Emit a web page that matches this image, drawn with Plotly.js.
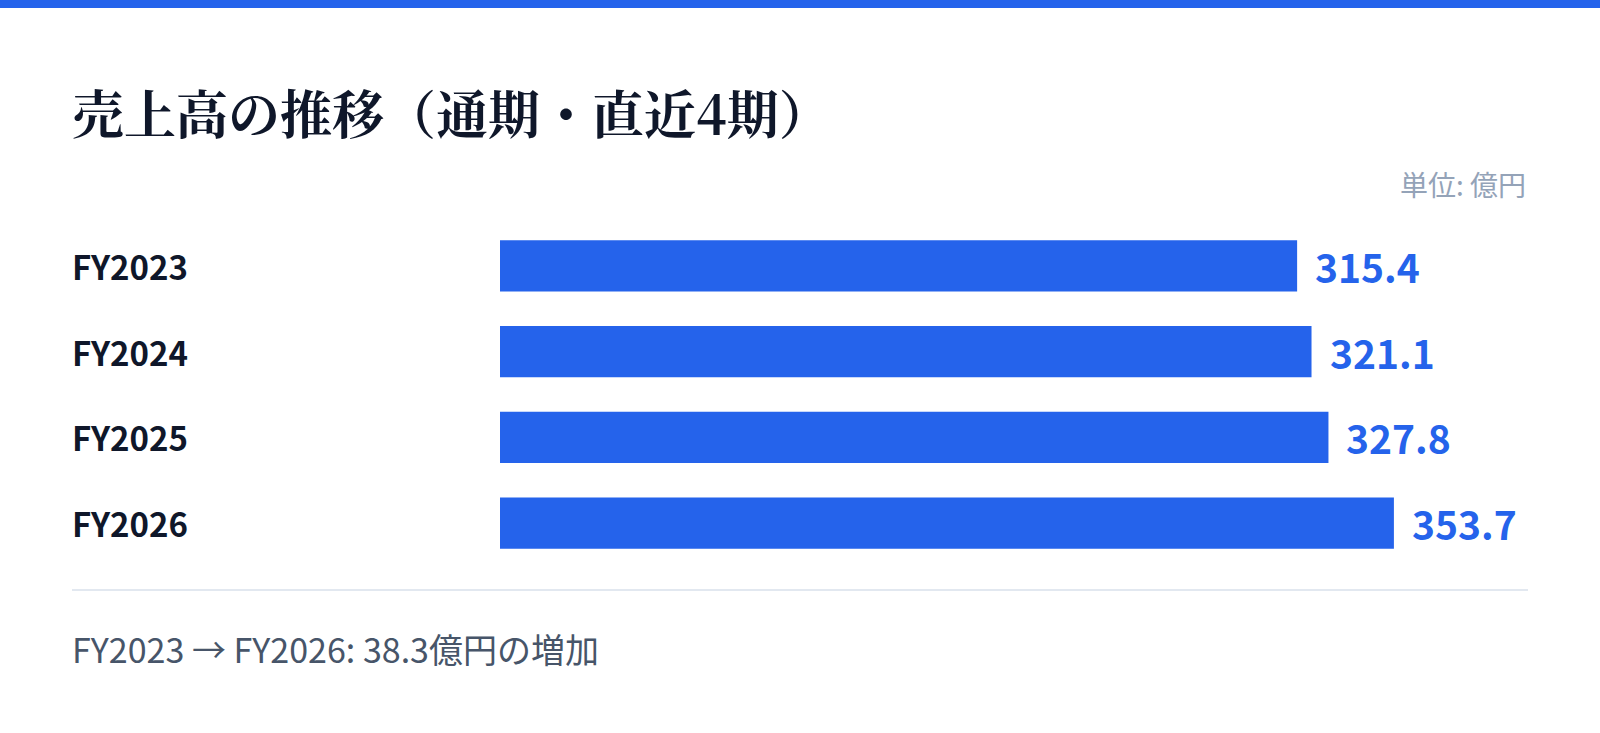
<!DOCTYPE html>
<html lang="ja">
<head>
<meta charset="utf-8">
<script src="https://cdn.plot.ly/plotly-3.0.1.min.js"></script>
<style>
  html, body { margin: 0; padding: 0; background: #ffffff; }
  #chart { width: 1600px; height: 733px; }
</style>
</head>
<body>
<div id="chart"></div>
<script>
// 売上高（億円）
const periods = ['FY2023', 'FY2024', 'FY2025', 'FY2026'];
const sales = [315.4, 321.1, 327.8, 353.7];

const BLUE = '#2563eb';
const SANS = '"Noto Sans CJK JP", "Noto Sans", sans-serif';

// plot area: x 500..1528, y 223..566 (px)
const L = 500, R = 1528, T = 223, B = 566;
const px = x => (x - L) / (R - L);
const py = y => 1 + (T - y) / (B - T);

const diff = (sales[sales.length - 1] - sales[0]).toFixed(1);

const data = [{
  type: 'bar',
  orientation: 'h',
  x: sales,
  y: periods,
  marker: { color: BLUE },
  hoverinfo: 'x+y'
}];

const annotations = [];
periods.forEach((p, i) => {
  // period label on the left
  annotations.push({
    xref: 'paper', yref: 'y', x: px(70), y: p,
    xanchor: 'left', yanchor: 'middle', showarrow: false,
    text: '<b>' + p + '</b>',
    font: { family: SANS, size: 33, color: '#0f172a' }
  });
  // value label after the bar
  annotations.push({
    xref: 'x', yref: 'y', x: sales[i], y: p,
    xanchor: 'left', yanchor: 'middle', showarrow: false, xshift: 16,
    text: '<b>' + sales[i].toFixed(1) + '</b>',
    font: { family: SANS, size: 39, color: BLUE }
  });
});

annotations.push({
  xref: 'paper', yref: 'paper', x: 1, y: py(184),
  xanchor: 'right', yanchor: 'middle', showarrow: false,
  text: '単位: 億円',
  font: { family: SANS, size: 28, color: '#94a3b8' }
});

annotations.push({
  xref: 'paper', yref: 'paper', x: px(70), y: py(648),
  xanchor: 'left', yanchor: 'middle', showarrow: false,
  text: periods[0] + ' → ' + periods[periods.length - 1] + ': ' + diff + '億円の増加',
  font: { family: SANS, size: 34, color: '#475569' }
});

const layout = {
  width: 1600,
  height: 733,
  margin: { l: L, r: 1600 - R, t: T, b: 733 - B, pad: 0 },
  paper_bgcolor: '#ffffff',
  plot_bgcolor: '#ffffff',
  showlegend: false,
  bargap: 0.4,
  title: {
    text: '<b>売上高の推移（通期・直近4期）</b>',
    xref: 'container', yref: 'container',
    x: 72 / 1600, xanchor: 'left',
    y: 1 - 116 / 733, yanchor: 'middle',
    font: { family: '"Noto Serif CJK JP", serif', size: 52, color: '#0f172a' }
  },
  xaxis: {
    range: [0, Math.max(...sales) * 1.15],
    visible: false,
    fixedrange: true
  },
  yaxis: {
    type: 'category',
    autorange: 'reversed',
    showticklabels: false,
    showgrid: false,
    zeroline: false,
    fixedrange: true
  },
  shapes: [
    { type: 'rect', xref: 'paper', yref: 'paper', x0: px(0), x1: px(1600), y0: py(0), y1: py(8),
      fillcolor: BLUE, line: { width: 0 }, layer: 'above' },
    { type: 'line', xref: 'paper', yref: 'paper', x0: px(72), x1: 1, y0: py(590), y1: py(590),
      line: { color: '#e2e8f0', width: 2 } }
  ],
  annotations: annotations
};

Plotly.newPlot('chart', data, layout, { displayModeBar: false, staticPlot: false });
</script>
</body>
</html>
